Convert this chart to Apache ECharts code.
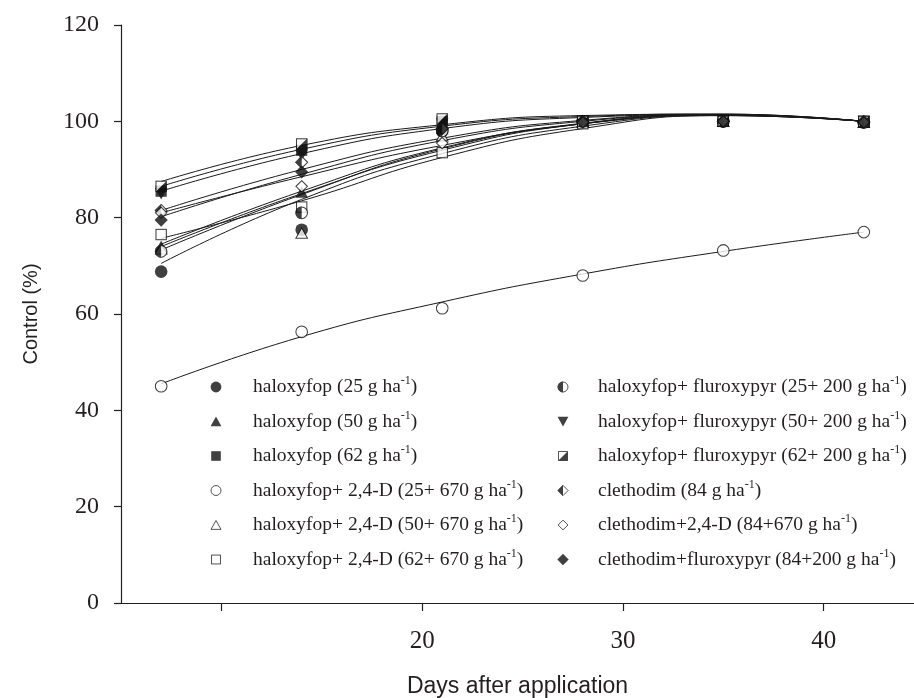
<!DOCTYPE html>
<html>
<head>
<meta charset="utf-8">
<script src="https://cdn.jsdelivr.net/npm/echarts@6/dist/echarts.min.js"></script>
<style>
  html, body { margin: 0; padding: 0; background: #fff; }
  #chart { width: 914px; height: 698px; }
</style>
</head>
<body>
<div id="chart"></div>
<script>
var days = [7, 14, 21, 28, 35, 42];

var seriesNames = [
    'haloxyfop (25 g ha-1)',
    'haloxyfop (50 g ha-1)',
    'haloxyfop (62 g ha-1)',
    'haloxyfop+ 2,4-D (25+ 670 g ha-1)',
    'haloxyfop+ 2,4-D (50+ 670 g ha-1)',
    'haloxyfop+ 2,4-D (62+ 670 g ha-1)',
    'haloxyfop+ fluroxypyr (25+ 200 g ha-1)',
    'haloxyfop+ fluroxypyr (50+ 200 g ha-1)',
    'haloxyfop+ fluroxypyr (62+ 200 g ha-1)',
    'clethodim (84 g ha-1)',
    'clethodim+2,4-D (84+670 g ha-1)',
    'clethodim+fluroxypyr (84+200 g ha-1)'
];

// observed points (markers)
var halox25 = [68.8, 77.5, 98, 100, 100, 99.8];
var halox50 = [74, 85.3, 98.5, 100, 100, 99.8];
var halox62 = [85.5, 94, 100, 100, 100, 100];
var d24_25 = [45, 56.3, 61.2, 68, 73.2, 77];
var d24_50 = [73.5, 76.8, 97, 99.8, 100, 99.8];
var d24_62 = [76.5, 82.2, 93.5, 99.5, 100, 99.8];
var flu25 = [73, 81, 98, 100, 100, 99.8];
var flu50 = [85, 93, 99.5, 100, 100, 100];
var flu62 = [86.5, 95.3, 100.5, 100, 100, 100];
var cle84 = [81.5, 91.5, 98.5, 100, 100, 100];
var cle24 = [81, 86.5, 95.5, 99.8, 100, 99.8];
var cleFlu = [79.5, 89.5, 98.5, 100, 100, 99.8];

// fitted curves at the same days
var fitHalox25 = [70.5, 83.8, 93.3, 99, 101.2, 100];
var fitHalox50 = [74.5, 85.5, 94.5, 99.6, 101.3, 100];
var fitHalox62 = [86.5, 94.2, 99, 101, 101.5, 100];
var fitD24_25 = [45.5, 55.3, 62.5, 68.3, 73, 77];
var fitD24_50 = [74, 85, 94, 99.5, 101.3, 100];
var fitD24_62 = [75.7, 83.5, 92.5, 98.5, 101.2, 100];
var fitFlu25 = [73.3, 84.8, 94.3, 99.5, 101.3, 100];
var fitFlu50 = [85.5, 93.3, 98.5, 100.8, 101.4, 100];
var fitFlu62 = [87.5, 95, 99.3, 101.2, 101.5, 100];
var fitCle84 = [81.5, 90, 96.5, 100.2, 101.4, 100];
var fitCle24 = [81, 88.5, 95, 99.5, 101.2, 100];
var fitCleFlu = [80.2, 89, 96, 100, 101.4, 100];

var pointValues = [halox25, halox50, halox62, d24_25, d24_50, d24_62, flu25, flu50, flu62, cle84, cle24, cleFlu];
var fitValues = [fitHalox25, fitHalox50, fitHalox62, fitD24_25, fitD24_50, fitD24_62, fitFlu25, fitFlu50, fitFlu62, fitCle84, fitCle24, fitCleFlu];

var xTickValues = [10, 20, 30, 40];
var xLabelValues = [20, 30, 40];

// marker shapes as small svg pictures (some are half filled)
var K = '#111';
var W = '#fff';
var svgShapes = [
    '<circle cx="10" cy="10" r="9" fill="' + K + '"/>',
    '<polygon points="10,1.5 19,18 1,18" fill="' + K + '"/>',
    '<rect x="2" y="2" width="16" height="16" fill="' + K + '"/>',
    '<circle cx="10" cy="10" r="8.3" fill="' + W + '" stroke="' + K + '" stroke-width="1.5"/>',
    '<polygon points="10,2.5 18.3,17.3 1.7,17.3" fill="' + W + '" stroke="' + K + '" stroke-width="1.5"/>',
    '<rect x="2.6" y="2.6" width="14.8" height="14.8" fill="' + W + '" stroke="' + K + '" stroke-width="1.5"/>',
    '<circle cx="10" cy="10" r="8.3" fill="' + W + '" stroke="' + K + '" stroke-width="1.5"/><path d="M10,1 A9,9 0 0 0 10,19 Z" fill="' + K + '"/>',
    '<polygon points="1,2 19,2 10,18.5" fill="' + K + '"/>',
    '<rect x="2.6" y="2.6" width="14.8" height="14.8" fill="' + W + '" stroke="' + K + '" stroke-width="1.5"/><polygon points="18,2 18,18 2,18" fill="' + K + '"/>',
    '<polygon points="10,1.5 18.5,10 10,18.5 1.5,10" fill="' + W + '" stroke="' + K + '" stroke-width="1.5"/><polygon points="10,1 1,10 10,19" fill="' + K + '"/>',
    '<polygon points="10,1.8 18.2,10 10,18.2 1.8,10" fill="' + W + '" stroke="' + K + '" stroke-width="1.5"/>',
    '<polygon points="10,0.5 19.5,10 10,19.5 0.5,10" fill="' + K + '"/>'
];

function svgIcon(body) {
    var svg = '<svg xmlns="http://www.w3.org/2000/svg" width="20" height="20" viewBox="0 0 20 20">' + body + '</svg>';
    return 'image://data:image/svg+xml;base64,' + btoa(svg);
}

var icons = svgShapes.map(svgIcon);

function pairs(vals) {
    var out = [];
    for (var j = 0; j < days.length; j++) {
        out.push([days[j], vals[j]]);
    }
    return out;
}

var series = [];
// fitted lines below
for (var i = 0; i < seriesNames.length; i++) {
    series.push({
        name: 'fit ' + i,
        type: 'line',
        data: pairs(fitValues[i]),
        smooth: 0.5,
        showSymbol: false,
        symbol: 'none',
        lineStyle: { color: '#1a1a1a', width: 1 },
        emphasis: { disabled: true },
        z: 1
    });
}
// markers on top
for (var i = 0; i < seriesNames.length; i++) {
    series.push({
        name: seriesNames[i],
        type: 'scatter',
        data: pairs(pointValues[i]),
        symbol: icons[i],
        symbolSize: 14,
        itemStyle: { color: '#111' },
        emphasis: { disabled: true },
        z: 2
    });
}

var legendText = {
    fontFamily: 'Liberation Serif',
    fontSize: 19.5,
    color: '#231f20',
    lineHeight: 24,
    rich: {
        s: { fontFamily: 'Liberation Serif', fontSize: 12, color: '#231f20', verticalAlign: 'top', lineHeight: 15 }
    }
};

function legendFmt(name) {
    return name.replace('ha-1)', 'ha{s|-1})');
}

function legendItems(from, to) {
    var out = [];
    for (var k = from; k < to; k++) {
        out.push({ name: seriesNames[k], icon: icons[k] });
    }
    return out;
}

var chart = echarts.init(document.getElementById('chart'), null, { renderer: 'canvas' });

var option = {
    backgroundColor: '#fff',
    animation: false,
    grid: { left: 121, top: 25, right: 0, bottom: 95, containLabel: false, outerBoundsMode: 'none' },
    xAxis: {
        type: 'value',
        min: 5,
        max: 44.5,
        name: 'Days after application',
        nameLocation: 'middle',
        nameGap: 72,
        nameTextStyle: { fontFamily: 'Liberation Sans', fontSize: 23, color: '#231f20' },
        axisLine: { show: true, lineStyle: { color: '#231f20', width: 1.2 } },
        axisTick: { show: true, customValues: xTickValues, length: 8, lineStyle: { color: '#231f20', width: 1.2 } },
        axisLabel: {
            customValues: xLabelValues,
            margin: 26,
            fontFamily: 'Liberation Serif',
            fontSize: 25,
            color: '#231f20'
        },
        splitLine: { show: false }
    },
    yAxis: {
        type: 'value',
        min: 0,
        max: 120,
        interval: 20,
        name: 'Control (%)',
        nameLocation: 'middle',
        nameGap: 80,
        nameTextStyle: { fontFamily: 'Liberation Sans', fontSize: 20, color: '#231f20' },
        axisLine: { show: true, lineStyle: { color: '#231f20', width: 1.2 } },
        axisTick: { show: true, length: 7, lineStyle: { color: '#231f20', width: 1.2 } },
        axisLabel: {
            margin: 22,
            fontFamily: 'Liberation Serif',
            fontSize: 24,
            color: '#231f20'
        },
        splitLine: { show: false }
    },
    legend: [
        {
            orient: 'vertical',
            left: 184,
            top: 375,
            padding: 0,
            itemWidth: 64,
            itemHeight: 12,
            itemGap: 10.5,
            selectedMode: false,
            textStyle: legendText,
            formatter: legendFmt,
            data: legendItems(0, 6)
        },
        {
            orient: 'vertical',
            left: 533,
            top: 375,
            padding: 0,
            itemWidth: 60,
            itemHeight: 12,
            itemGap: 10.5,
            selectedMode: false,
            textStyle: legendText,
            formatter: legendFmt,
            data: legendItems(6, 12)
        }
    ],
    series: series
};

chart.setOption(option);
</script>
</body>
</html>
